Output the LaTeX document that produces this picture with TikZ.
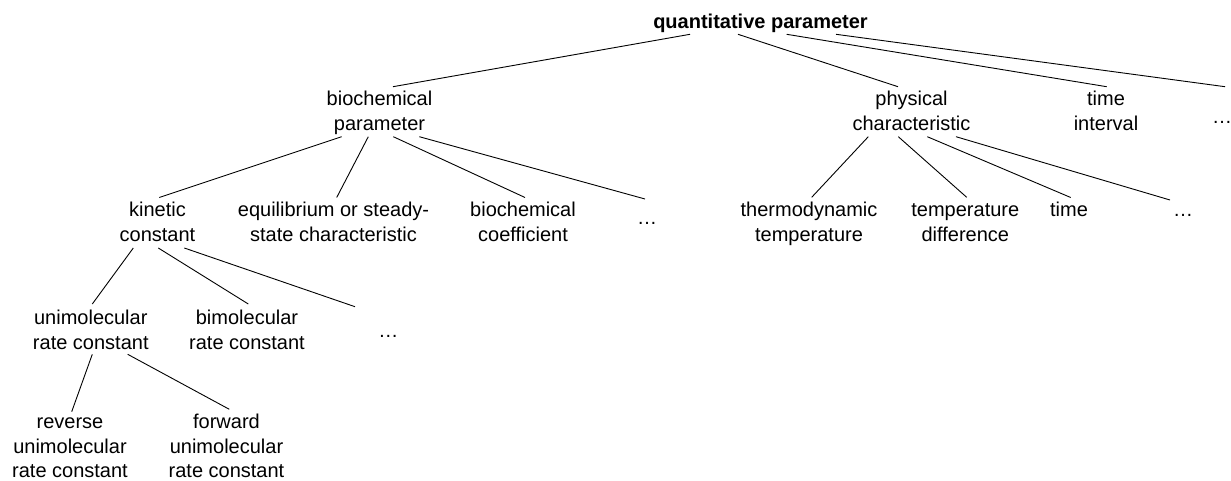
\documentclass[tikz,border=0pt]{standalone}
\usepackage{fontspec}
\setmainfont{Liberation Sans}
\newcommand\ml[1]{\begin{tabular}[t]{@{}c@{}}#1\end{tabular}}
\begin{document}
\begin{tikzpicture}[x=1pt,y=-1pt,
  lbl/.style={anchor=base,inner sep=0pt,font=\fontsize{20}{24.5}\selectfont},
  rootlbl/.style={lbl,font=\fontsize{20}{24.5}\selectfont\bfseries},
  edge/.style={draw=black,line width=0.9pt}]
\useasboundingbox (0,0) rectangle (1231,481);
% level 1
\node[rootlbl] (root) at (760.5,28.3) {quantitative parameter};
% level 2
\node[lbl] (bio) at (379.5,106) {\ml{biochemical\\parameter}};
\node[lbl] (phys) at (911.5,106) {\ml{physical\\characteristic}};
\node[lbl] (tint) at (1106,106) {\ml{time\\interval}};
\node[lbl] (dA) at (1222,124) {…};
% level 3
\node[lbl] (kin) at (157.5,217) {\ml{kinetic\\constant}};
\node[lbl] (equ) at (333.5,217) {\ml{equilibrium or steady-\\state characteristic}};
\node[lbl] (coef) at (523,217) {\ml{biochemical\\coefficient}};
\node[lbl] (dB) at (647,224) {…};
\node[lbl] (thermo) at (809,216.7) {\ml{thermodynamic\\temperature}};
\node[lbl] (tdiff) at (965.3,216.7) {\ml{temperature\\difference}};
\node[lbl] (time) at (1069,216.7) {time};
\node[lbl] (dC) at (1183,216.7) {…};
% level 4
\node[lbl] (uni) at (90.8,324.5) {\ml{unimolecular\\rate constant}};
\node[lbl] (bi) at (247,324.5) {\ml{bimolecular\\rate constant}};
\node[lbl] (dD) at (388.3,337) {…};
% level 5
\node[lbl] (rev) at (70,428.5) {\ml{reverse\\unimolecular\\rate constant}};
\node[lbl] (fwd) at (226.5,428.5) {\ml{forward\\unimolecular\\rate constant}};
% edges
\path[edge] ([shift={(-70.5,6)}]root.base) -- ([shift={(13.5,-19.3)}]bio.base);
\path[edge] ([shift={(-22.5,6)}]root.base) -- ([shift={(-13.5,-19.3)}]phys.base);
\path[edge] ([shift={(26.2,6)}]root.base) -- ([shift={(0.7,-19.3)}]tint.base);
\path[edge] ([shift={(75.5,6)}]root.base) -- ([shift={(3,-37.3)}]dA.base);
\path[edge] ([shift={(-37.8,30.7)}]bio.base) -- ([shift={(1.8,-19.5)}]kin.base);
\path[edge] ([shift={(-11.2,30.7)}]bio.base) -- ([shift={(3.2,-19.5)}]equ.base);
\path[edge] ([shift={(13.8,30.7)}]bio.base) -- ([shift={(2,-19.5)}]coef.base);
\path[edge] ([shift={(39.8,30.7)}]bio.base) -- ([shift={(-2,-25)}]dB.base);
\path[edge] ([shift={(-43.2,30.7)}]phys.base) -- ([shift={(2.7,-19.4)}]thermo.base);
\path[edge] ([shift={(-13.2,30.7)}]phys.base) -- ([shift={(1.4,-19.4)}]tdiff.base);
\path[edge] ([shift={(15.8,30.7)}]phys.base) -- ([shift={(1.7,-19.2)}]time.base);
\path[edge] ([shift={(44.5,30.7)}]phys.base) -- ([shift={(-13,-16.7)}]dC.base);
\path[edge] ([shift={(-24.2,31)}]kin.base) -- ([shift={(1.5,-20.5)}]uni.base);
\path[edge] ([shift={(0.8,31)}]kin.base) -- ([shift={(1.3,-20.5)}]bi.base);
\path[edge] ([shift={(26.8,31)}]kin.base) -- ([shift={(-33.3,-30.3)}]dD.base);
\path[edge] ([shift={(1.5,29.8)}]uni.base) -- ([shift={(1.7,-16.8)}]rev.base);
\path[edge] ([shift={(36.9,29.8)}]uni.base) -- ([shift={(2.8,-19.2)}]fwd.base);
\end{tikzpicture}
\end{document}
